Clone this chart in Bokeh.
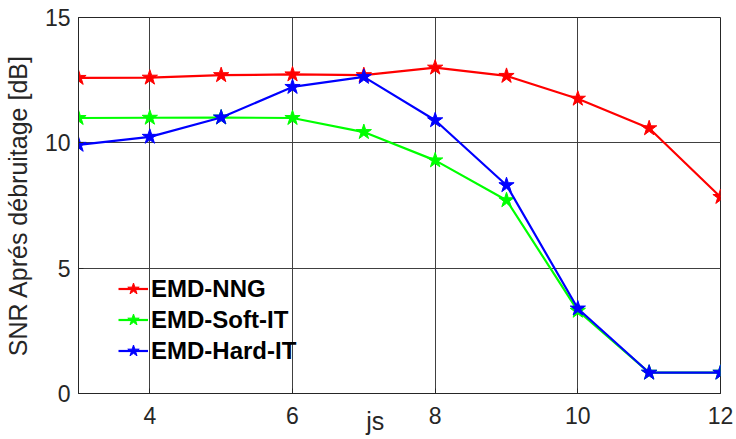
from bokeh.plotting import figure
from bokeh.embed import file_html
from bokeh.resources import INLINE
from bokeh.models import FixedTicker, Legend, LegendItem, Range1d

js = [3, 4, 5, 6, 7, 8, 9, 10, 11, 12]
nng = [12.59, 12.6, 12.7, 12.73, 12.7, 13.0, 12.67, 11.76, 10.58, 7.84]
soft = [10.99, 11.0, 11.01, 10.99, 10.43, 9.3, 7.71, 3.3, 0.83, 0.83]
hard = [9.92, 10.24, 11.01, 12.23, 12.63, 10.9, 8.31, 3.39, 0.83, 0.83]
series_names = ["EMD-NNG", "EMD-Soft-IT", "EMD-Hard-IT"]
x_ticks = [4, 6, 8, 10, 12]
y_ticks = [0, 5, 10, 15]

FONT = "Liberation Sans"
TXT = "#262626"

p = figure(width=736, height=439, output_backend="svg", toolbar_location=None,
           x_range=Range1d(3, 12), y_range=Range1d(0, 15),
           min_border_left=78, min_border_right=16, min_border_top=17, min_border_bottom=46)
p.background_fill_color = "white"
p.border_fill_color = "white"
p.outline_line_color = TXT
p.outline_line_width = 1

for ax in (p.xaxis[0], p.yaxis[0]):
    ax.axis_line_color = TXT
    ax.major_tick_line_color = TXT
    ax.major_tick_in = 5
    ax.major_tick_out = 0
    ax.minor_tick_line_color = None
    ax.major_label_text_font = FONT
    ax.major_label_text_font_size = "23px"
    ax.major_label_text_color = TXT
    ax.major_label_standoff = 8
p.xaxis.major_label_standoff = 13
p.xaxis.ticker = FixedTicker(ticks=x_ticks)
p.yaxis.ticker = FixedTicker(ticks=y_ticks)
p.yaxis.axis_label = "SNR Aprés débruitage [dB]"
p.yaxis.axis_label_text_font = FONT
p.yaxis.axis_label_text_font_size = "25px"
p.yaxis.axis_label_text_font_style = "normal"
p.yaxis.axis_label_text_color = TXT
p.yaxis.axis_label_standoff = 10

p.xaxis.axis_label = "js" + "\u00a0" * 7
p.xaxis.axis_label_text_font = FONT
p.xaxis.axis_label_text_font_size = "25px"
p.xaxis.axis_label_text_font_style = "normal"
p.xaxis.axis_label_text_color = TXT
p.xaxis.axis_label_standoff = -20

p.xgrid.ticker = FixedTicker(ticks=x_ticks)
p.ygrid.ticker = FixedTicker(ticks=y_ticks)
for g in (p.xgrid[0], p.ygrid[0]):
    g.grid_line_color = "#404040"
    g.grid_line_width = 1

colors = ["#ff0000", "#00ff00", "#0000ff"]
items = []
for name, ys, c in zip(series_names, [nng, soft, hard], colors):
    l = p.line(js, ys, line_color=c, line_width=2.2)
    s = p.scatter(js, ys, marker="star", size=16, fill_color=c, line_color=c)
    items.append(LegendItem(label=name, renderers=[l, s]))

leg = Legend(items=items, location=(36, 23), glyph_width=30, glyph_height=31,
             label_height=31, spacing=0, label_standoff=3, padding=4,
             label_text_font=FONT, label_text_font_size="24px",
             label_text_font_style="bold", label_text_color="black",
             border_line_alpha=0, background_fill_alpha=0)
p.add_layout(leg, "center")

open("out.html", "w").write(file_html(p, INLINE))
